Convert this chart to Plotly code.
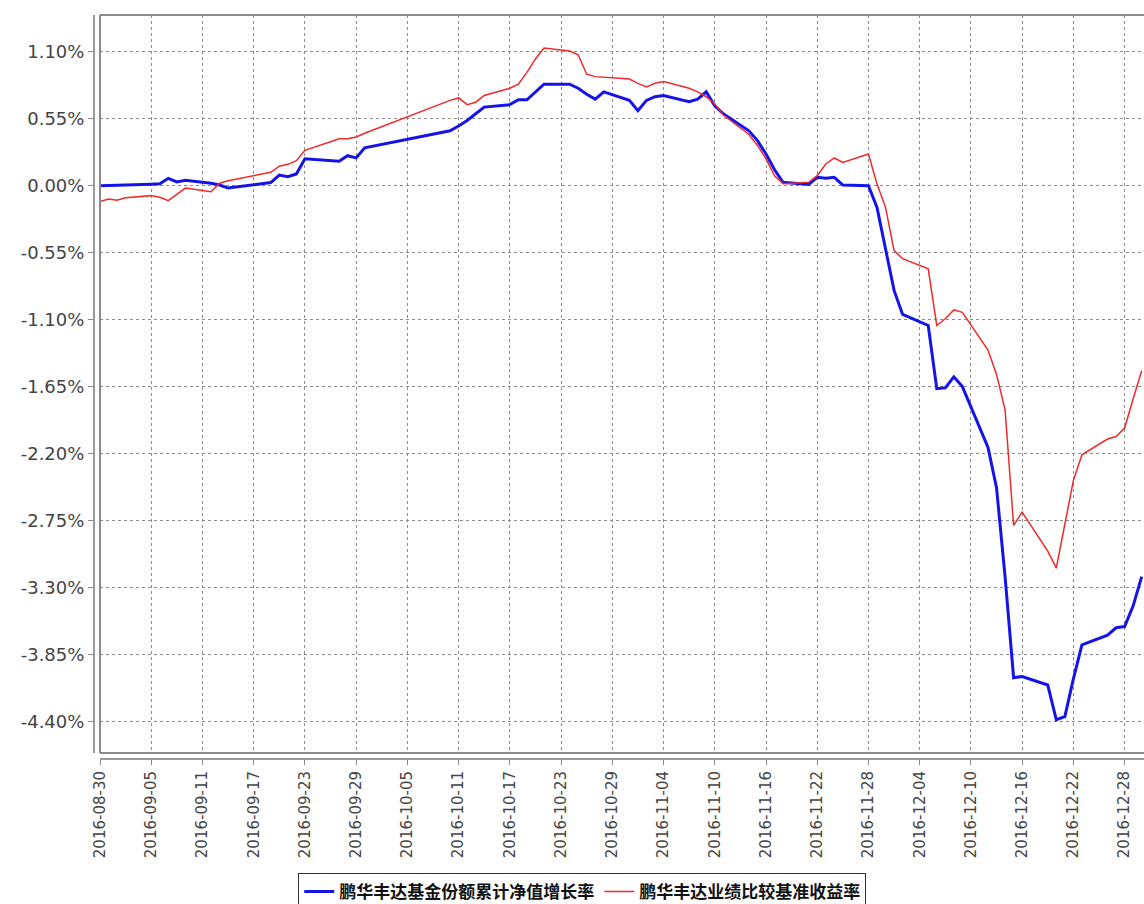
import plotly.graph_objects as go

# ---------------- data ----------------
dates = [
    "2016-08-30", "2016-08-31", "2016-09-01", "2016-09-02",
    "2016-09-05", "2016-09-06", "2016-09-07", "2016-09-08", "2016-09-09",
    "2016-09-12", "2016-09-13", "2016-09-14",
    "2016-09-19", "2016-09-20", "2016-09-21", "2016-09-22", "2016-09-23",
    "2016-09-26", "2016-09-27", "2016-09-28", "2016-09-29", "2016-09-30",
    "2016-10-10", "2016-10-11", "2016-10-12", "2016-10-13", "2016-10-14",
    "2016-10-17", "2016-10-18", "2016-10-19", "2016-10-20", "2016-10-21",
    "2016-10-24", "2016-10-25", "2016-10-26", "2016-10-27", "2016-10-28",
    "2016-10-31", "2016-11-01", "2016-11-02", "2016-11-03", "2016-11-04",
    "2016-11-07", "2016-11-08", "2016-11-09", "2016-11-10", "2016-11-11",
    "2016-11-14", "2016-11-15", "2016-11-16", "2016-11-17", "2016-11-18",
    "2016-11-21", "2016-11-22", "2016-11-23", "2016-11-24", "2016-11-25",
    "2016-11-28", "2016-11-29", "2016-11-30", "2016-12-01", "2016-12-02",
    "2016-12-05", "2016-12-06", "2016-12-07", "2016-12-08", "2016-12-09",
    "2016-12-12", "2016-12-13", "2016-12-14", "2016-12-15", "2016-12-16",
    "2016-12-19", "2016-12-20", "2016-12-21", "2016-12-22", "2016-12-23",
    "2016-12-26", "2016-12-27", "2016-12-28", "2016-12-29", "2016-12-30",
]

fund_growth = [
    0.00, 0.00, 0.00, 0.005,
    0.012, 0.015, 0.06, 0.03, 0.045,
    0.02, 0.005, -0.02,
    0.025, 0.087, 0.074, 0.096, 0.22,
    0.205, 0.20, 0.246, 0.228, 0.31,
    0.45, 0.49, 0.535, 0.59, 0.645,
    0.665, 0.705, 0.705, 0.77, 0.833,
    0.833, 0.80, 0.75, 0.71, 0.77,
    0.70, 0.615, 0.70, 0.73, 0.74,
    0.69, 0.71, 0.77, 0.656, 0.59,
    0.45, 0.37, 0.26, 0.13, 0.027,
    0.01, 0.068, 0.06, 0.068, 0.005,
    0.00, -0.178, -0.533, -0.86, -1.057,
    -1.148, -1.667, -1.66, -1.57, -1.65,
    -2.15, -2.48, -3.21, -4.04, -4.03,
    -4.10, -4.385, -4.36, -4.05, -3.77,
    -3.69, -3.63, -3.62, -3.45, -3.21,
]

benchmark = [
    -0.13, -0.11, -0.12, -0.10,
    -0.082, -0.096, -0.123, -0.075, -0.02,
    -0.05, 0.02, 0.04,
    0.11, 0.16, 0.175, 0.205, 0.29,
    0.36, 0.385, 0.385, 0.40, 0.43,
    0.70, 0.72, 0.665, 0.685, 0.74,
    0.80, 0.833, 0.93, 1.04, 1.13,
    1.105, 1.075, 0.915, 0.895, 0.89,
    0.875, 0.84, 0.81, 0.84, 0.855,
    0.80, 0.77, 0.73, 0.67, 0.58,
    0.42, 0.33, 0.22, 0.08, 0.015,
    0.027, 0.082, 0.178, 0.227, 0.19,
    0.26, 0.014, -0.178, -0.533, -0.60,
    -0.683, -1.148, -1.093, -1.02, -1.04,
    -1.35, -1.55, -1.84, -2.79, -2.68,
    -3.00, -3.14, -2.78, -2.42, -2.21,
    -2.08, -2.06, -1.99, -1.75, -1.52,
]

series_names = ["鹏华丰达基金份额累计净值增长率", "鹏华丰达业绩比较基准收益率"]

y_tick_values = [1.10, 0.55, 0.00, -0.55, -1.10, -1.65, -2.20, -2.75, -3.30, -3.85, -4.40]
y_tick_labels = ["1.10%", "0.55%", "0.00%", "-0.55%", "-1.10%", "-1.65%",
                 "-2.20%", "-2.75%", "-3.30%", "-3.85%", "-4.40%"]

x_tick_labels = [
    "2016-08-30", "2016-09-05", "2016-09-11", "2016-09-17", "2016-09-23",
    "2016-09-29", "2016-10-05", "2016-10-11", "2016-10-17", "2016-10-23",
    "2016-10-29", "2016-11-04", "2016-11-10", "2016-11-16", "2016-11-22",
    "2016-11-28", "2016-12-04", "2016-12-10", "2016-12-16", "2016-12-22",
    "2016-12-28",
]

# ---------------- figure ----------------
W, H = 1144, 904
ML, MT, MB = 94, 15, 145
PW, PH = W - ML, H - MT - MB
dx, dy = 6 / PW, 6 / PH

fig = go.Figure()
fig.add_trace(go.Scatter(
    x=dates, y=fund_growth, mode="lines", name=series_names[0],
    line=dict(color="#1414e8", width=3),
))
fig.add_trace(go.Scatter(
    x=dates, y=benchmark, mode="lines", name=series_names[1],
    line=dict(color="#f02a2a", width=1.5),
))

grid_common = dict(showgrid=True, gridcolor="#8c8c8c", gridwidth=1, griddash="3px,3px",
                   zeroline=False, showline=True, linecolor="#999999", linewidth=2,
                   ticks="outside", ticklen=5, tickcolor="#888888", tickwidth=1)

legend_top_px = 873  # in figure pixels
fig.update_layout(
    width=W, height=H,
    margin=dict(l=ML, r=0, t=MT, b=MB, autoexpand=False),
    paper_bgcolor="white", plot_bgcolor="white",
    showlegend=True,
    legend=dict(
        orientation="h", x=0.465, xanchor="center",
        y=-(legend_top_px - (MT + PH)) / PH, yanchor="top",
        bordercolor="#333333", borderwidth=1, bgcolor="white",
        font=dict(family="Noto Sans CJK SC", size=17, color="#111111", weight="bold"),
        tracegroupgap=0,
    ),
    xaxis=dict(
        domain=[dx, 1], anchor="free", position=0,
        type="date", range=["2016-08-30", "2016-12-30 06:30"],
        tickvals=x_tick_labels, ticktext=x_tick_labels,
        tickangle=-90,
        tickfont=dict(family="DejaVu Sans, sans-serif", size=15, color="#444444"),
        **grid_common,
    ),
    yaxis=dict(
        domain=[dy, 1], anchor="free", position=0,
        range=[-4.658, 1.401],
        tickvals=y_tick_values, ticktext=y_tick_labels,
        tickfont=dict(family="DejaVu Sans, sans-serif", size=18, color="#444444"),
        **grid_common,
    ),
    shapes=[
        dict(type="line", xref="paper", yref="paper", x0=dx, x1=dx, y0=dy, y1=1,
             line=dict(color="#8a8a8a", width=2)),
        dict(type="line", xref="paper", yref="paper", x0=dx, x1=1, y0=1, y1=1,
             line=dict(color="#8a8a8a", width=2)),
        dict(type="line", xref="paper", yref="paper", x0=dx, x1=1, y0=dy, y1=dy,
             line=dict(color="#8a8a8a", width=2)),
    ],
)

fig.write_html(
    "out.html",
    config={"displayModeBar": False},
    post_script="document.body.style.margin='0';document.body.style.overflow='hidden';",
)
